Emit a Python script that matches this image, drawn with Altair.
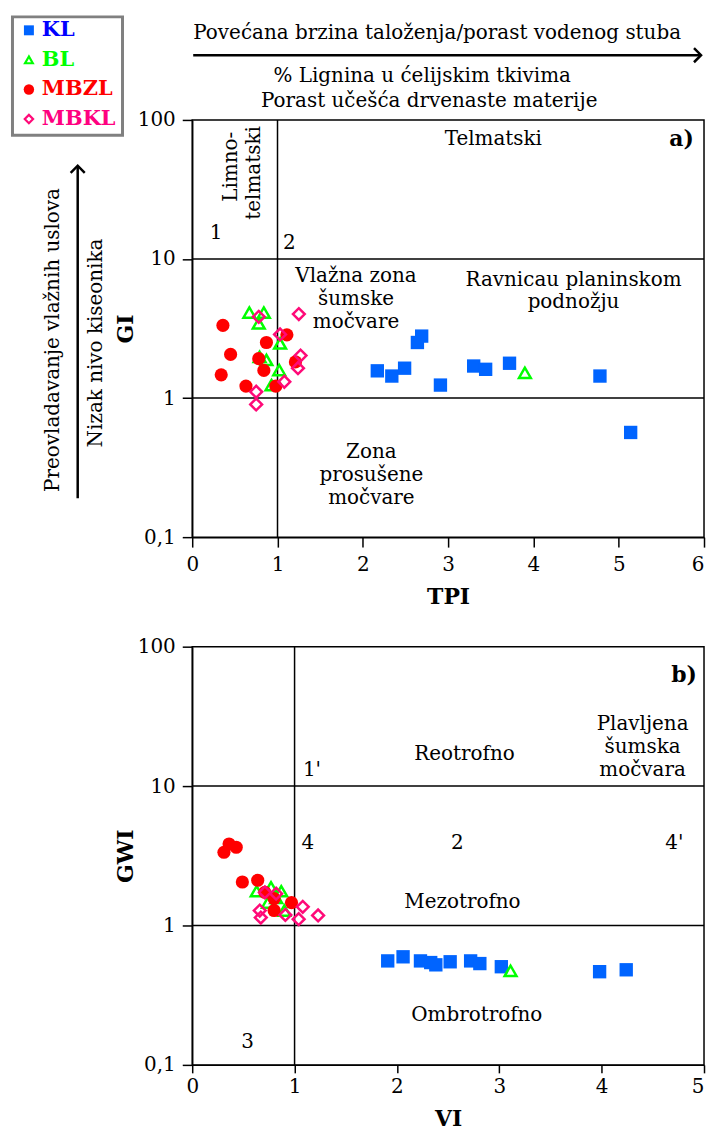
import altair as alt
import pandas as pd

FONT = "DejaVu Serif"
BLUE = "#0064FF"
GREEN = "#00FF00"
RED = "#FF0000"
PINK = "#FF0A78"

# ---------------- panel a) TPI / GI ----------------
a_kl_tpi = [2.17, 2.34, 2.49, 2.64, 2.69, 2.91, 3.30, 3.44, 3.72, 4.78, 5.14]
a_kl_gi = [1.57, 1.44, 1.64, 2.51, 2.79, 1.24, 1.70, 1.61, 1.78, 1.44, 0.566]
a_bl_tpi = [0.67, 0.84, 0.78, 0.79, 0.87, 1.03, 1.02, 0.93, 3.90]
a_bl_gi = [4.12, 4.12, 3.44, 1.98, 1.88, 2.47, 1.59, 1.24, 1.52]
a_mbzl_tpi = [0.36, 0.45, 0.34, 0.63, 0.87, 0.78, 0.84, 0.98, 1.11, 1.21]
a_mbzl_gi = [3.33, 2.06, 1.47, 1.22, 2.51, 1.92, 1.58, 1.22, 2.85, 1.82]
a_mbkl_tpi = [0.78, 1.25, 1.03, 1.27, 1.24, 1.08, 0.75, 0.75]
a_mbkl_gi = [3.84, 4.02, 2.87, 2.02, 1.64, 1.31, 1.11, 0.90]

a_text = ["Telmatski", "1", "2", "Vlažna zona", "šumske", "močvare",
          "Ravnicau planinskom", "podnožju", "Zona", "prosušene", "močvare"]
a_text_x = [3.53, 0.28, 1.14, 1.92, 1.92, 1.92, 4.47, 4.47, 2.10, 2.10, 2.10]
a_text_y = [72.5, 15.4, 13.0, 7.53, 5.17, 3.54, 7.07, 4.92, 0.407, 0.278, 0.190]
a_vtext = ["Limno-", "telmatski"]
a_vtext_x = [0.45, 0.73]
a_vtext_y = [46.0, 41.6]

# ---------------- panel b) VI / GWI ----------------
b_kl_vi = [1.91, 2.06, 2.23, 2.33, 2.38, 2.52, 2.72, 2.81, 3.02, 3.98, 4.24]
b_kl_gwi = [0.557, 0.596, 0.557, 0.542, 0.522, 0.549, 0.557, 0.533, 0.506, 0.466, 0.481]
b_bl_vi = [0.63, 0.77, 0.87, 0.74, 0.90, 0.82, 3.11]
b_bl_gwi = [1.76, 1.88, 1.76, 1.46, 1.28, 1.58, 0.473]
b_mbzl_vi = [0.31, 0.36, 0.43, 0.49, 0.64, 0.71, 0.80, 0.80, 0.97]
b_mbzl_gwi = [3.35, 3.84, 3.64, 2.05, 2.11, 1.73, 1.56, 1.28, 1.46]
b_mbkl_vi = [0.71, 0.82, 0.66, 0.67, 1.08, 1.04, 1.23, 0.91]
b_mbkl_gwi = [1.73, 1.69, 1.28, 1.14, 1.36, 1.11, 1.18, 1.19]

b_text = ["Plavljena", "šumska", "močvara", "Reotrofno", "1'", "4", "2", "4'",
          "Mezotrofno", "Ombrotrofno", "3"]
b_text_x = [4.40, 4.40, 4.40, 2.66, 1.17, 1.13, 2.59, 4.71, 2.64, 2.78, 0.54]
b_text_y = [27.9, 19.1, 13.1, 17.1, 13.1, 3.88, 3.88, 3.88, 1.47, 0.226, 0.145]

y_ticks = [0.1, 1, 10, 100]
series_names = ["KL", "BL", "MBZL", "MBKL"]
series_colors = [BLUE, GREEN, RED, PINK]
label_colors = ["#0000FF", "#00FF00", "#FF0000", "#FF0080"]

TXT = 20


def enc(xdom, xvals, xtitle, ytitle, xtp, xtick, xlp):
    last = xvals[-1]
    x = alt.X("x:Q", scale=alt.Scale(domain=xdom, nice=False, zero=False),
              axis=alt.Axis(values=xvals, format="d", title=xtitle, tickSize=xtick,
                            labelPadding=xlp, titlePadding=xtp, grid=False,
                            labelAlign={"condition": {"test": f"datum.value == {last}", "value": "right"},
                                        "value": "center"}))
    y = alt.Y("y:Q", scale=alt.Scale(type="log", domain=[0.1, 100], nice=False),
              axis=alt.Axis(values=y_ticks, title=ytitle, tickSize=10, labelPadding=7,
                            titlePadding=0, grid=False,
                            labelExpr="datum.value < 0.5 ? '0,1' : format(datum.value, 'd')"))
    return x, y


def build_panel(data, texts, xdom, xvals, xtitle, ytitle, tag, tag_x, tag_y, xtp, xtick, xlp,
                vtexts=None):
    X, Y = enc(xdom, xvals, xtitle, ytitle, xtp, xtick, xlp)
    layers = []
    styles = [
        dict(shape="square", filled=True, size=180, strokeWidth=0),
        dict(shape="triangle-up", filled=False, size=140, strokeWidth=2.5),
        dict(shape="circle", filled=True, size=175, strokeWidth=0),
        dict(shape="diamond", filled=False, size=140, strokeWidth=2.5),
    ]
    hr = pd.DataFrame({"y": [1, 10]})
    layers.append(alt.Chart(hr).mark_rule(color="black", strokeWidth=1.5).encode(y=Y))
    vr = pd.DataFrame({"x": [1]})
    layers.append(alt.Chart(vr).mark_rule(color="black", strokeWidth=1.5).encode(x=X))
    for (xs, ys), col, st in zip(data, series_colors, styles):
        df = pd.DataFrame({"x": xs, "y": ys})
        layers.append(alt.Chart(df).mark_point(color=col, opacity=1, **st).encode(x=X, y=Y))
    tx, ty, tt = texts
    tdf = pd.DataFrame({"x": tx, "y": ty, "t": tt})
    layers.append(alt.Chart(tdf).mark_text(font=FONT, fontSize=TXT, color="black",
                                           align="center", baseline="middle")
                  .encode(x=X, y=Y, text="t:N"))
    if vtexts is not None:
        vx, vy, vt = vtexts
        vdf = pd.DataFrame({"x": vx, "y": vy, "t": vt})
        layers.append(alt.Chart(vdf).mark_text(font=FONT, fontSize=TXT, color="black", angle=270,
                                               align="center", baseline="middle")
                      .encode(x=X, y=Y, text="t:N"))
    gdf = pd.DataFrame({"x": [tag_x], "y": [tag_y], "t": [tag]})
    layers.append(alt.Chart(gdf).mark_text(font=FONT, fontSize=22, fontWeight="bold", color="black",
                                           align="right", baseline="middle")
                  .encode(x=X, y=Y, text="t:N"))
    return layers


def ptext(txt, px, py, size=TXT, angle=0, align="center", weight="normal", color="black"):
    d = pd.DataFrame({"t": [txt]})
    kw = dict(font=FONT, fontSize=size, align=align, baseline="middle", color=color, fontWeight=weight)
    if angle:
        kw["angle"] = angle
    return alt.Chart(d).mark_text(**kw).encode(x=alt.value(px), y=alt.value(py), text="t:N")


def psym(shape, px, py, color, filled, size, sw):
    d = pd.DataFrame({"t": ["s"]})
    return alt.Chart(d).mark_point(shape=shape, filled=filled, color=color, size=size,
                                   strokeWidth=sw, opacity=1).encode(
        x=alt.value(px), y=alt.value(py))


# ------------- decorations around panel a (outside plot) -------------
deco = []
one = pd.DataFrame({"t": ["r"]})
deco.append(alt.Chart(one).mark_rule(color="black", strokeWidth=2.5).encode(
    x=alt.value(1), x2=alt.value(510), y=alt.value(-65)))
deco.append(psym("M -1 -1 L 0 0 L -1 1", 511, -65, "black", False, 200, 2.5))
deco.append(ptext("Povećana brzina taloženja/porast vodenog stuba", 246, -87))
deco.append(ptext("% Lignina u ćelijskim tkivima", 231, -44))
deco.append(ptext("Porast učešća drvenaste materije", 238, -19))
deco.append(alt.Chart(one).mark_rule(color="black", strokeWidth=2.5).encode(
    x=alt.value(-115), y=alt.value(47), y2=alt.value(380)))
deco.append(psym("M -1 1 L 0 0 L 1 1", -115, 46, "black", False, 200, 2.5))
deco.append(ptext("Preovladavanje vlažnih uslova", -140, 221, angle=270))
deco.append(ptext("Nizak nivo kiseonika", -97, 224, angle=270))
deco.append(alt.Chart(one).mark_rect(fill="white", stroke="#808080", strokeWidth=3).encode(
    x=alt.value(-180.5), x2=alt.value(-70), y=alt.value(-103.5), y2=alt.value(15.5)))
leg_shapes = [("square", True, 100, 0), ("triangle-up", False, 60, 2.2),
              ("circle", True, 110, 0), ("diamond", False, 70, 2.2)]
for i, (nm, sc, lc, (shp, fl, sz, sw)) in enumerate(zip(series_names, series_colors, label_colors, leg_shapes)):
    yy = -90 + i * 29.7
    deco.append(psym(shp, -164, yy, sc, fl, sz, sw))
    deco.append(ptext(nm, -151, yy, size=21, align="left", weight="bold", color=lc))

panel_a_layers = build_panel(
    [(a_kl_tpi, a_kl_gi), (a_bl_tpi, a_bl_gi), (a_mbzl_tpi, a_mbzl_gi), (a_mbkl_tpi, a_mbkl_gi)],
    (a_text_x, a_text_y, a_text), [0, 6], [0, 1, 2, 3, 4, 5, 6], "TPI", "GI",
    "a)", 5.88, 72.5, 13, 10, 7, vtexts=(a_vtext_x, a_vtext_y, a_vtext))
panel_a = alt.layer(*(panel_a_layers + deco)).properties(width=514, height=419)

panel_b_layers = build_panel(
    [(b_kl_vi, b_kl_gwi), (b_bl_vi, b_bl_gwi), (b_mbzl_vi, b_mbzl_gwi), (b_mbkl_vi, b_mbkl_gwi)],
    (b_text_x, b_text_y, b_text), [0, 5], [0, 1, 2, 3, 4, 5], "VI", "GWI",
    "b)", 4.93, 62.6, 12, 8, 4)
panel_b = alt.layer(*panel_b_layers).properties(width=514, height=420)

chart = alt.vconcat(panel_a, panel_b, spacing=27).properties(
    padding={"left": 2, "top": 4, "right": 0, "bottom": 0}
).configure_view(stroke="black", strokeWidth=1.5).configure_axis(
    domainColor="black", domainWidth=1.5, tickColor="black", tickWidth=1.5,
    labelColor="black", titleColor="black", labelFont=FONT, titleFont=FONT,
    labelFontSize=20, titleFontSize=22, titleFontWeight="bold", grid=False
)

chart.save("out.html", embed_options={"renderer": "svg", "actions": False})
